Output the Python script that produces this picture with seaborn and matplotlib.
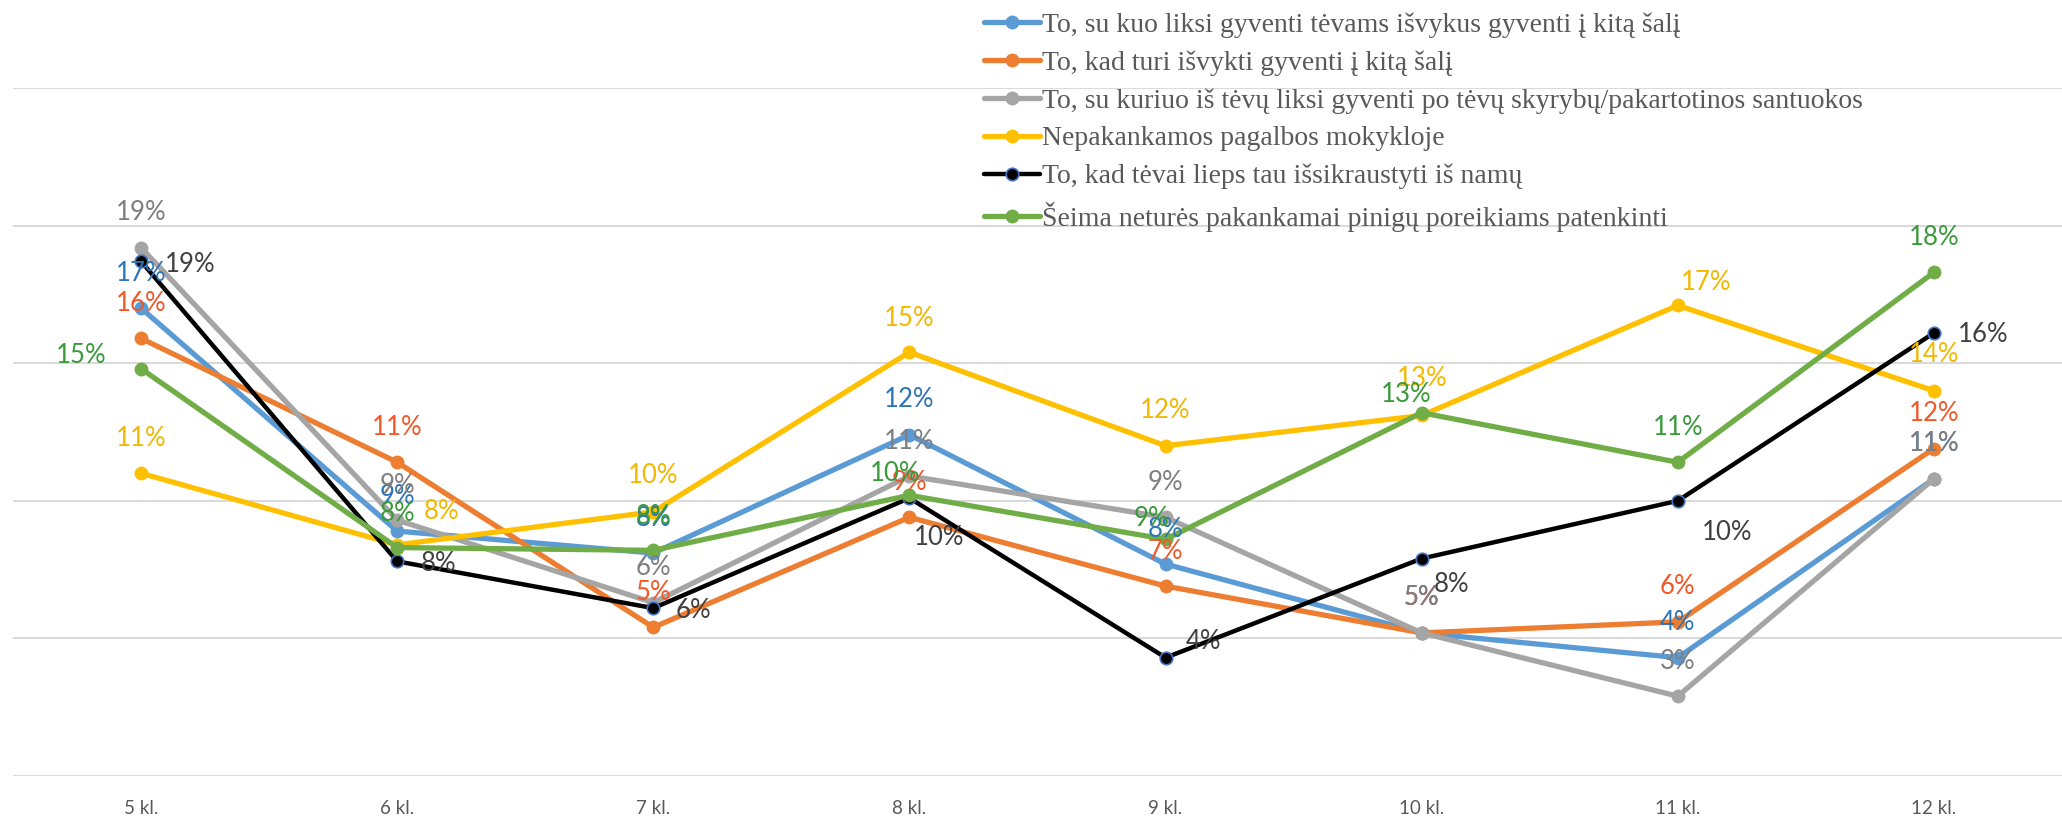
import numpy as np
import pandas as pd
import matplotlib.pyplot as plt
import seaborn as sns

# categories (school grade) and series names
grades = ["5 kl.", "6 kl.", "7 kl.", "8 kl.", "9 kl.", "10 kl.", "11 kl.", "12 kl."]
series_names = [
    "To, su kuo liksi gyventi tėvams išvykus gyventi į kitą šalį",
    "To, kad turi išvykti gyventi į kitą šalį",
    "To, su kuriuo iš tėvų liksi gyventi po tėvų skyrybų/pakartotinos santuokos",
    "Nepakankamos pagalbos mokykloje",
    "To, kad tėvai lieps tau išsikraustyti iš namų",
    "Šeima neturės pakankamai pinigų poreikiams patenkinti",
]

# values in percent
parents_abroad = [17.0, 8.9, 8.1, 12.4, 7.7, 5.2, 4.3, 10.8]
move_abroad = [15.9, 11.4, 5.4, 9.4, 6.9, 5.2, 5.6, 11.9]
divorce = [19.2, 9.3, 6.3, 10.9, 9.4, 5.2, 2.9, 10.8]
school_help = [11.0, 8.4, 9.6, 15.4, 12.0, 13.1, 17.1, 14.0]
moved_out = [18.7, 7.8, 6.1, 10.1, 4.3, 7.9, 10.0, 16.1]
no_money = [14.8, 8.3, 8.2, 10.2, 8.6, 13.2, 11.4, 18.3]
all_values = [parents_abroad, move_abroad, divorce, school_help, moved_out, no_money]

line_colors = ["#5B9BD5", "#ED7D31", "#A5A5A5", "#FFC000", "#000000", "#70AD47"]
label_colors = ["#2E75B6", "#F0582A", "#7F7F7F", "#F2B800", "#404040", "#3A9A3A"]

# data label offsets in pixels (dx, dy up) - Excel labels were nudged by hand
PX = 100 / 72
above = [(0, 35)] * 8
label_offsets = [
    above,
    above,
    above,
    [(0, 35), (44, 33), (0, 36), (0, 34), (0, 35), (0, 37), (28, 23), (0, 36)],
    [(49, -3), (41, -2), (40, -2), (30, -39), (38, 16), (30, -26), (49, -32), (49, -2)],
    [(-60, 13), (0, 34), (0, 34), (-14, 22), (-14, 21), (-16, 18), (0, 35), (0, 35)],
]

rows = []
for name, vals in zip(series_names, all_values):
    for g, v in zip(grades, vals):
        rows.append({"klasė": g, "procentai": v, "teiginys": name})
df = pd.DataFrame(rows)

sns.set_style("white")
plt.rcParams["font.family"] = ["Lato", "DejaVu Sans"]

fig = plt.figure(figsize=(20.62, 8.19), dpi=100)
ax = fig.add_axes([13 / 2062, 43 / 819, 1 - 13 / 2062, (776 - 88) / 819])

sns.lineplot(data=df, x="klasė", y="procentai", hue="teiginys", hue_order=series_names,
             palette=line_colors, marker="o", markersize=10, markeredgewidth=0,
             linewidth=3.8, sort=False, ax=ax)


def is_black(c):
    return c in ("#000000", "k", (0.0, 0.0, 0.0))


for line in ax.lines:
    if is_black(line.get_color()):
        line.set_markeredgecolor("#4472C4")
        line.set_markeredgewidth(1.2)
        line.set_markersize(9)
        line.set_linewidth(3.2)

# data labels
for vals, offs, col in zip(all_values, label_offsets, label_colors):
    for g, v, (dx, dy) in zip(grades, vals, offs):
        ax.annotate(f"{round(v):.0f}%", xy=(g, v), xytext=(dx / PX, dy / PX),
                    textcoords="offset points", ha="center", va="center",
                    color=col, fontsize=18.5, zorder=10)

ax.set_xlim(-0.5, len(grades) - 0.5)
ax.set_ylim(0, 25)
ax.set_yticks(np.arange(0, 26, 5))
ax.grid(axis="y", color="#D9D9D9", linewidth=1.4)
ax.grid(axis="x", visible=False)
ax.tick_params(left=False, labelleft=False, bottom=False, pad=14, labelsize=13.5, labelcolor="#595959")
ax.set_xlabel("")
ax.set_ylabel("")
sns.despine(ax=ax, left=True, bottom=True)

handles, labels = ax.get_legend_handles_labels()
for h in handles:
    if is_black(h.get_color()):
        h.set_markeredgecolor("#4472C4")
        h.set_markeredgewidth(1.2)
ax.legend(handles, labels, loc="upper left", bbox_to_anchor=(984 / 2062, 1 - 12 / 819),
          bbox_transform=fig.transFigure, frameon=False, borderpad=0, borderaxespad=0,
          handlelength=2.0, handletextpad=0.1, labelspacing=0.45,
          prop={"family": "Liberation Serif", "size": 20}, labelcolor="#595959")

fig.savefig("out.png", dpi=100)
